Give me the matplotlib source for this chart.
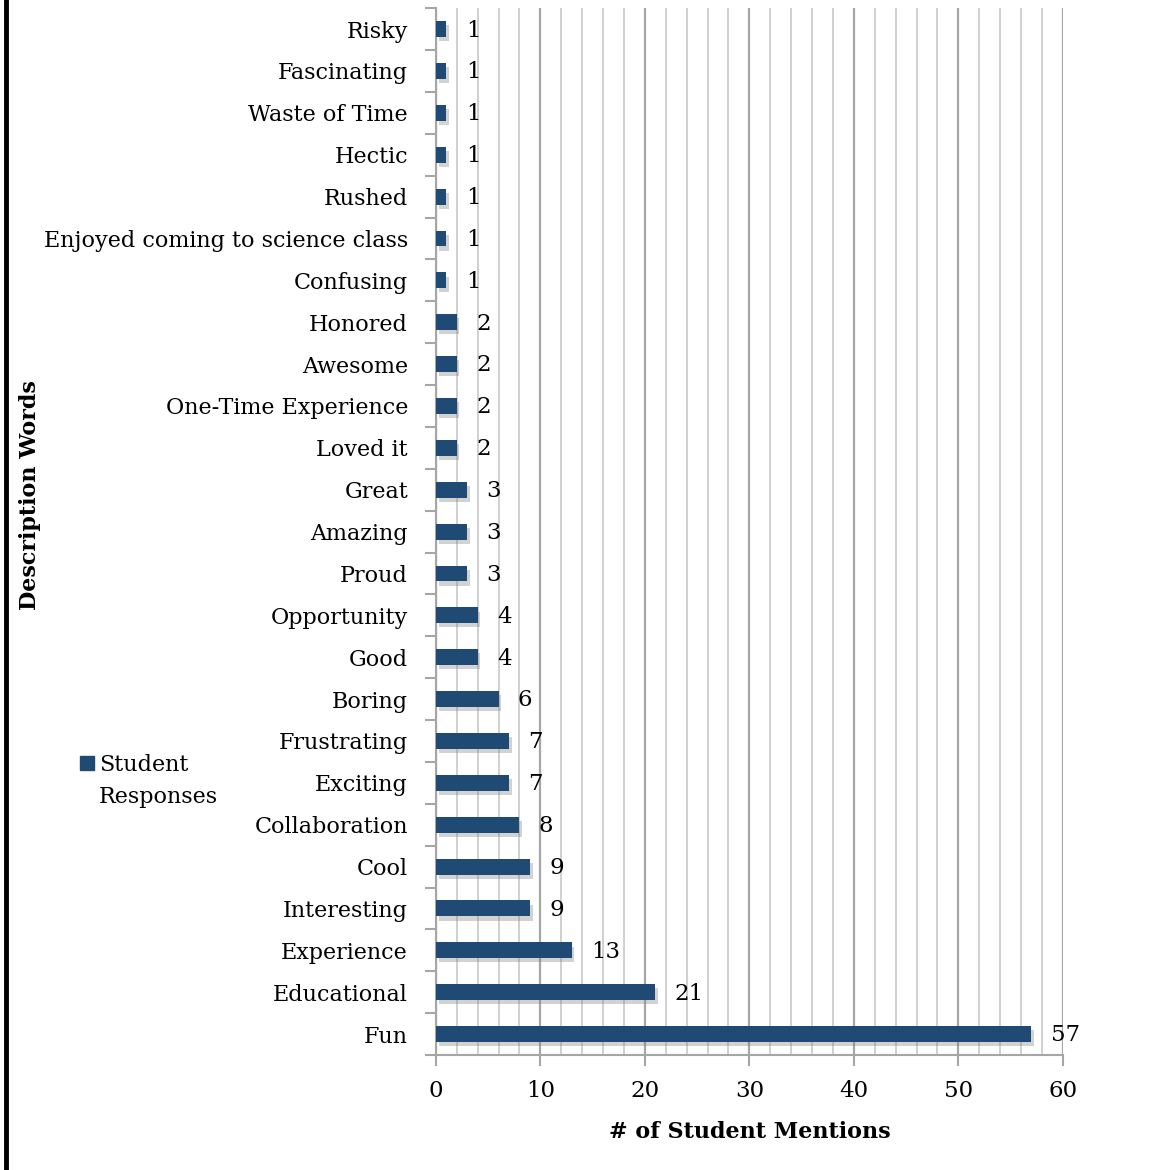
import numpy as np
import matplotlib
matplotlib.use("Agg")
from matplotlib import pyplot as plt
import matplotlib.ticker as mticker
import matplotlib.patheffects as pe
from matplotlib.lines import Line2D
from matplotlib.patches import Rectangle

# data, top to bottom as in the chart
words = ["Risky", "Fascinating", "Waste of Time", "Hectic", "Rushed",
         "Enjoyed coming to science class", "Confusing", "Honored", "Awesome",
         "One-Time Experience", "Loved it", "Great", "Amazing", "Proud",
         "Opportunity", "Good", "Boring", "Frustrating", "Exciting",
         "Collaboration", "Cool", "Interesting", "Experience", "Educational", "Fun"]
mentions = [1, 1, 1, 1, 1, 1, 1, 2, 2, 2, 2, 3, 3, 3, 4, 4, 6, 7, 7, 8, 9, 9, 13, 21, 57]
series_name = "Student\nResponses"

bar_color = "#1f4a73"
plt.rcParams["font.family"] = ["DejaVu Serif", "Liberation Serif"]
fs = 16

fig = plt.figure(figsize=(11.56, 11.70), dpi=100)
ax = fig.add_axes([0.377, 0.0983, 0.5424, 0.8947])

ypos = np.arange(len(words))[::-1]
bars = ax.barh(ypos, mentions, height=0.38, color=bar_color, zorder=3)
for b in bars:
    b.set_path_effects([pe.SimplePatchShadow(offset=(2, -3), shadow_rgbFace="gray", alpha=0.35),
                        pe.Normal()])

for y, v in zip(ypos, mentions):
    ax.annotate(str(v), (v, y), xytext=(14, -1), textcoords="offset points",
                va="center", ha="left", fontsize=fs + 0.5, color="black")

ax.set_xlim(0, 60)
ax.set_ylim(-0.5, len(words) - 0.5)
ax.xaxis.set_major_locator(mticker.MultipleLocator(10))
ax.xaxis.set_minor_locator(mticker.MultipleLocator(2))
ax.grid(axis="x", which="major", color="#a6a6a6", linewidth=1.6, zorder=0)
ax.grid(axis="x", which="minor", color="#d0d0d0", linewidth=1.4, zorder=0)
ax.set_axisbelow(True)

ax.set_yticks(ypos)
ax.set_yticklabels(words, fontsize=fs)
ax.yaxis.set_minor_locator(mticker.FixedLocator(np.arange(-0.5, len(words), 1)))
ax.tick_params(axis="y", which="major", length=0, pad=20)
ax.tick_params(axis="y", which="minor", length=8, color="#a6a6a6", width=1.5)
ax.tick_params(axis="x", which="major", length=8, color="#a6a6a6", width=1.5,
               labelsize=fs + 0.5, pad=10)
ax.tick_params(axis="x", which="minor", length=0)

for s in ["top", "right"]:
    ax.spines[s].set_visible(False)
for s in ["left", "bottom"]:
    ax.spines[s].set_color("#a6a6a6")
    ax.spines[s].set_linewidth(1.5)

ax.set_xlabel("# of Student Mentions", fontsize=fs, fontweight="bold", labelpad=14)
fig.text(0.026, 0.577, "Description Words", rotation=90, ha="center", va="center",
         fontsize=fs, fontweight="bold")

# legend: square next to the first line of a two-line label
fig.add_artist(Rectangle((0.069, 0.3415), 0.0125, 0.012, color=bar_color,
                         transform=fig.transFigure))
fig.text(0.0855, 0.3325, series_name, ha="left", va="center", fontsize=fs,
         linespacing=1.6)

# black frame line at the left edge
fig.add_artist(Line2D([0.0055, 0.0055], [0, 1], color="black", linewidth=3.5,
                      transform=fig.transFigure))

fig.savefig("out.png", dpi=100)
